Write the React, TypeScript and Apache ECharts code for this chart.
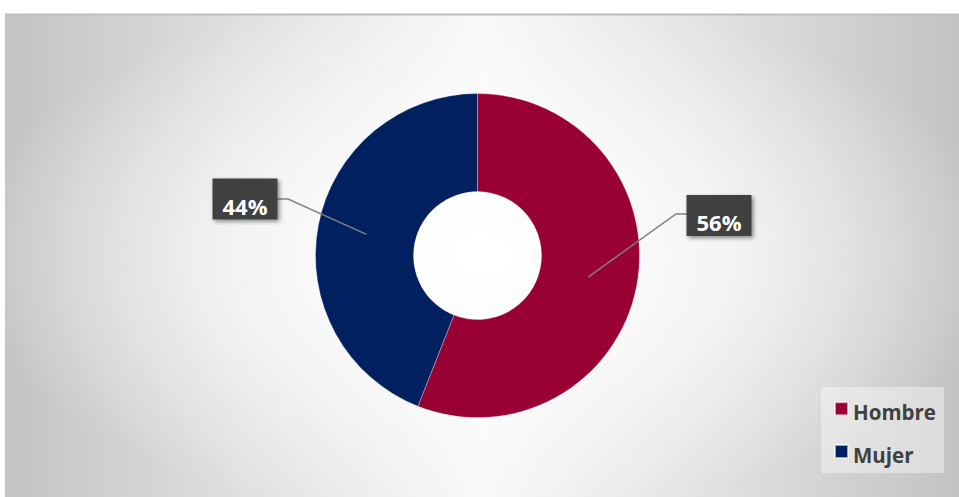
import React, { useEffect, useRef } from "react";
import * as echarts from "echarts";

const categories = ["Hombre", "Mujer"];
const values = [56, 44];
const colors = ["#990033", "#002060"];

const CENTER = [477.5, 255.6];
const RADII = [64, 162];

// label placement (layout only)
const LABEL_LAYOUT = [
  { x: 719, y: 215.5, lineY: 214, elbowX: 676, edgeX: 687 },
  { x: 245, y: 199, lineY: 199, elbowX: 288, edgeX: 277 },
];

export default function App() {
  const ref = useRef<HTMLDivElement>(null);
  useEffect(() => {
    if (!ref.current) return;
    const chart = echarts.init(ref.current, undefined, { renderer: "svg" });
    const total = values.reduce((a, b) => a + b, 0);
    const midAngles: number[] = [];
    let cum = 0;
    values.forEach((v) => {
      midAngles.push(((cum + v / 2) / total) * Math.PI * 2);
      cum += v;
    });
    const rMid = (RADII[0] + RADII[1]) / 2;
    const font = "Open Sans";

    chart.setOption({
      animation: false,
      backgroundColor: "#ffffff",
      graphic: [
        {
          type: "rect",
          z: -10,
          silent: true,
          shape: { x: 5, y: 14, width: 954, height: 483 },
          style: {
            fill: new echarts.graphic.LinearGradient(0, 0, 1, 0, [
              { offset: 0, color: "#c3c3c3" },
              { offset: 0.25, color: "#e0e0e0" },
              { offset: 0.5, color: "#f8f8f8" },
              { offset: 0.75, color: "#e0e0e0" },
              { offset: 1, color: "#c3c3c3" },
            ]),
          },
        },
        {
          type: "rect",
          z: -9,
          silent: true,
          shape: { x: 5, y: 14, width: 954, height: 483 },
          style: {
            fill: new echarts.graphic.RadialGradient(0.5, 0.5, 0.55, [
              { offset: 0, color: "rgba(255,255,255,1)" },
              { offset: 0.5, color: "rgba(255,255,255,0.6)" },
              { offset: 1, color: "rgba(255,255,255,0)" },
            ]),
          },
        },
        {
          type: "line",
          z: -8,
          silent: true,
          shape: { x1: 5, y1: 14.5, x2: 959, y2: 14.5 },
          style: { stroke: "#bdbdbd", lineWidth: 2 },
        },
        {
          type: "rect",
          z: -7,
          silent: true,
          shape: { x: 821, y: 387, width: 123, height: 86 },
          style: { fill: "rgba(255,255,255,0.4)" },
        },
      ],
      legend: {
        orient: "vertical",
        left: 834,
        top: 396.2,
        padding: 0,
        itemWidth: 13,
        itemHeight: 13,
        itemGap: 16.3,
        icon: "rect",
        data: categories,
        formatter: "{s| }\n{n|{name}}",
        textStyle: {
          color: "#404040",
          fontFamily: font,
          fontWeight: "bold",
          fontSize: 20.5,
          rich: {
            s: { fontSize: 5, lineHeight: 7 },
            n: {
              color: "#404040",
              fontFamily: font,
              fontWeight: "bold",
              fontSize: 20.5,
              lineHeight: 20,
            },
          },
        },
      },
      series: [
        {
          type: "pie",
          z: 2,
          center: CENTER,
          radius: RADII,
          startAngle: 90,
          clockwise: true,
          silent: true,
          label: { show: false },
          labelLine: { show: false },
          itemStyle: { borderColor: "rgba(255,255,255,0.6)", borderWidth: 0.5 },
          data: categories.map((c, i) => ({
            name: c,
            value: values[i],
            itemStyle: { color: colors[i] },
          })),
        },
        {
          type: "pie",
          z: 5,
          center: CENTER,
          radius: RADII,
          startAngle: 90,
          clockwise: true,
          avoidLabelOverlap: false,
          silent: true,
          legendHoverLink: false,
          itemStyle: { color: "rgba(0,0,0,0)", borderWidth: 0 },
          data: categories.map((c, i) => ({
            name: c,
            value: values[i],
          })),
          label: {
            show: true,
            position: "outside",
            formatter: "{s| }\n{t|{d}%}",
            color: "#ffffff",
            fontFamily: font,
            fontWeight: "bold",
            fontSize: 22,
            backgroundColor: "#404040",
            padding: [0, 10, 3, 10],
            shadowBlur: 4,
            shadowColor: "rgba(0,0,0,0.45)",
            shadowOffsetX: 2,
            shadowOffsetY: 2,
            rich: {
              s: { fontSize: 6, lineHeight: 16 },
              t: {
                color: "#ffffff",
                fontFamily: font,
                fontWeight: "bold",
                fontSize: 22,
                lineHeight: 22,
              },
            },
          },
          labelLine: {
            show: true,
            lineStyle: { color: "#808080", width: 1.5 },
          },
          labelLayout: (params: any) => {
            const i = params.dataIndex;
            const L = LABEL_LAYOUT[i];
            const a = midAngles[i];
            const sx = CENTER[0] + rMid * Math.sin(a);
            const sy = CENTER[1] - rMid * Math.cos(a);
            return {
              x: L.x,
              y: L.y,
              align: "center",
              verticalAlign: "middle",
              labelLinePoints: [
                [sx, sy],
                [L.elbowX, L.lineY],
                [L.edgeX, L.lineY],
              ],
            };
          },
        },
      ],
    });
    return () => chart.dispose();
  }, []);
  return (
    <div
      ref={ref}
      style={{ position: "fixed", left: 0, top: 0, width: 959, height: 497 }}
    />
  );
}
